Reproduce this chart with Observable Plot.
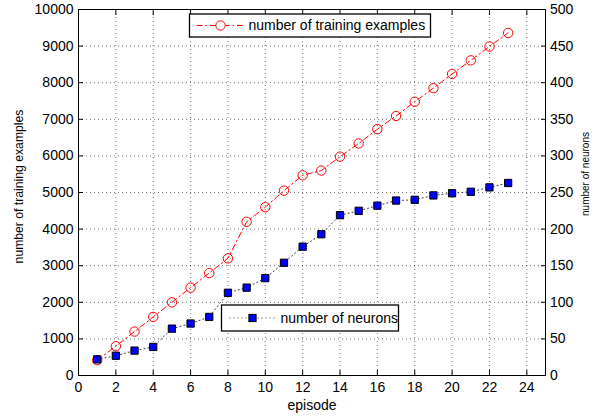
<!DOCTYPE html>
<html><head><meta charset="utf-8">
<script src="https://cdn.jsdelivr.net/npm/d3@7"></script>
<script src="https://cdn.jsdelivr.net/npm/@observablehq/plot@0.6"></script>
<style>body{margin:0;background:#fff}#chart svg{display:block}</style>
</head><body><div id="chart"></div>
<script>
const episodes = [1,2,3,4,5,6,7,8,9,10,11,12,13,14,15,16,17,18,19,20,21,22,23];
const trainingExamples = [420,800,1200,1600,2000,2400,2800,3200,4200,4600,5050,5470,5600,5980,6340,6730,7090,7480,7850,8240,8610,8990,9360];
const neurons = [22,27,34,39,64,71,80,113,120,133,154,176,193,219,225,232,239,240,246,249,251,257,263];
const xTicks = [0,2,4,6,8,10,12,14,16,18,20,22,24];
const leftTicks = [0,1000,2000,3000,4000,5000,6000,7000,8000,9000,10000];
const rightTicks = [0,50,100,150,200,250,300,350,400,450,500];
const xDomain = [0,25];
const leftDomain = [0,10000];
const rightDomain = [0,500];
const labels = {x:"episode", left:"number of training examples", right:"number of neurons"};
const seriesNames = ["number of training examples","number of neurons"];

const ratio = leftDomain[1] / rightDomain[1];
const rows = episodes.map((e,i)=>({episode:e, examples:trainingExamples[i], neurons:neurons[i]}));
const gridStyle = {stroke:"#000", strokeOpacity:0.55, strokeDasharray:"1,3"};

const chart = Plot.plot({
  width:599, height:419,
  marginLeft:78, marginRight:54, marginTop:9, marginBottom:44,
  style:{fontFamily:"'Liberation Sans', Arial, Helvetica, sans-serif", fontSize:"14px", background:"#fff", color:"#000"},
  x:{domain:xDomain},
  y:{domain:leftDomain},
  marks:[
    Plot.gridX(xTicks, gridStyle),
    Plot.gridY(leftTicks, gridStyle),
    Plot.line(rows, {x:"episode", y:"examples", stroke:"#ff0000", strokeWidth:1, strokeDasharray:"6,3,1.5,3"}),
    Plot.dot(rows, {x:"episode", y:"examples", r:4.7, stroke:"#ff0000", strokeWidth:1, fill:"none"}),
    Plot.line(rows, {x:"episode", y:d=>d.neurons*ratio, stroke:"#333", strokeWidth:1, strokeDasharray:"1,3"}),
    Plot.dot(rows, {x:"episode", y:d=>d.neurons*ratio, r:4.1, symbol:"square", fill:"#0000ff", stroke:"#000", strokeWidth:1}),
    Plot.frame({stroke:"#000", strokeWidth:1}),
    Plot.axisX(xTicks, {anchor:"bottom", tickSize:-5, tickPadding:12, tickFormat:d=>String(d), label:null, fontSize:14}),
    Plot.axisX(xTicks, {anchor:"top", tickSize:-5, tickFormat:()=>"", label:null}),
    Plot.axisY(leftTicks, {anchor:"left", tickSize:-5, tickPadding:10, tickFormat:d=>String(d), label:null, fontSize:14}),
    Plot.axisY(rightTicks.map(v=>v*ratio), {anchor:"right", tickSize:-5, tickPadding:9.5, tickFormat:d=>String(d/ratio), label:null, fontSize:14}),
    Plot.text([labels.x], {text:d=>d, frameAnchor:"bottom", textAnchor:"middle", dy:34, fontSize:14}),
    Plot.text([labels.left], {text:d=>d, frameAnchor:"left", textAnchor:"middle", dx:-59, dy:-6, rotate:-90, fontSize:12.2}),
    Plot.text([labels.right], {text:d=>d, frameAnchor:"right", textAnchor:"middle", dx:40, dy:-18.5, rotate:-90, fontSize:10})
  ]
});
document.getElementById("chart").appendChild(chart);

// legends
const svg = d3.select(chart);
function legend(x, y, w, h, name, kind){
  const g = svg.append("g");
  g.append("rect").attr("x",x).attr("y",y).attr("width",w).attr("height",h)
    .attr("fill","#fff").attr("stroke","#000").attr("stroke-width",1.3);
  const cy = y + h/2;
  const mx = x + 31;
  if(kind === "circle"){
    g.append("line").attr("x1",x+7).attr("x2",x+56).attr("y1",cy).attr("y2",cy)
      .attr("stroke","#ff0000").attr("stroke-dasharray","6,3,1.5,3");
    g.append("circle").attr("cx",mx).attr("cy",cy).attr("r",4.7).attr("fill","#fff").attr("stroke","#ff0000");
  } else {
    g.append("line").attr("x1",x+8).attr("x2",x+54).attr("y1",cy).attr("y2",cy)
      .attr("stroke","#333").attr("stroke-dasharray","1,3");
    g.append("rect").attr("x",mx-3.6).attr("y",cy-3.6).attr("width",7.2).attr("height",7.2)
      .attr("fill","#0000ff").attr("stroke","#000");
  }
  g.append("text").attr("x",x+59).attr("y",cy).attr("dy","0.35em")
    .attr("text-anchor","start").attr("font-size",14).attr("fill","#000").text(name);
}
legend(189.5, 14, 241, 23, seriesNames[0], "circle");
legend(221.5, 305, 177, 26, seriesNames[1], "square");
</script>
</body></html>
